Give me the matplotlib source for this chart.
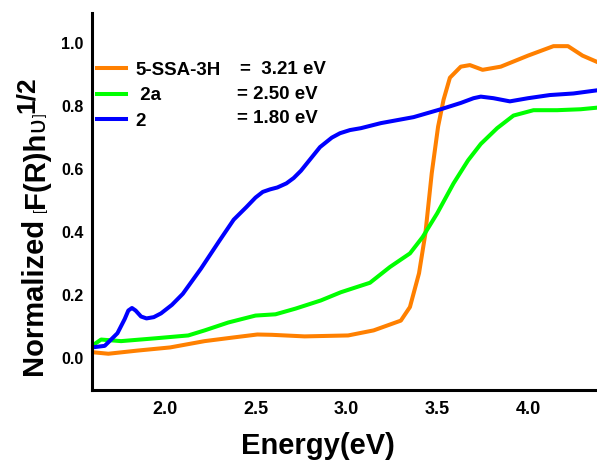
import matplotlib
matplotlib.use('Agg')
import matplotlib.pyplot as plt
import numpy as np

plt.rcParams['font.family'] = ['Liberation Sans', 'DejaVu Sans']
plt.rcParams['font.weight'] = 'bold'

# 5-SSA-3H (orange)
e_ssa = [1.60, 1.69, 1.85, 2.03, 2.22, 2.37, 2.51, 2.59, 2.77, 3.01, 3.15, 3.30, 3.35, 3.40,
         3.435, 3.47, 3.505, 3.535, 3.57, 3.63, 3.68, 3.75, 3.85, 4.00, 4.14, 4.22, 4.30, 4.38]
y_ssa = [0.020, 0.015, 0.025, 0.035, 0.055, 0.066, 0.076, 0.075, 0.070, 0.073, 0.089, 0.120, 0.163, 0.270,
         0.396, 0.587, 0.735, 0.820, 0.890, 0.925, 0.930, 0.915, 0.925, 0.960, 0.990, 0.990, 0.960, 0.940]

# 2a (green)
e_2a = [1.60, 1.65, 1.76, 1.95, 2.13, 2.22, 2.35, 2.50, 2.61, 2.72, 2.86, 2.97, 3.13, 3.24,
        3.35, 3.42, 3.50, 3.59, 3.67, 3.74, 3.83, 3.92, 4.03, 4.16, 4.29, 4.38]
y_2a = [0.040, 0.060, 0.055, 0.064, 0.073, 0.089, 0.114, 0.136, 0.140, 0.158, 0.184, 0.210, 0.240, 0.290,
        0.333, 0.385, 0.460, 0.555, 0.628, 0.680, 0.730, 0.770, 0.787, 0.787, 0.790, 0.795]

# 2 (blue)
e_2 = [1.60, 1.67, 1.74, 1.78, 1.80, 1.82, 1.84, 1.87, 1.90, 1.94, 1.98, 2.04, 2.10, 2.20,
       2.30, 2.38, 2.45, 2.50, 2.54, 2.58, 2.62, 2.67, 2.71, 2.75, 2.785, 2.855, 2.92, 2.965,
       3.02, 3.08, 3.19, 3.37, 3.52, 3.63, 3.70, 3.74, 3.81, 3.90, 4.00, 4.12, 4.25, 4.38]
y_2 = [0.035, 0.040, 0.080, 0.125, 0.152, 0.160, 0.152, 0.133, 0.127, 0.131, 0.143, 0.170, 0.205, 0.285,
       0.372, 0.440, 0.480, 0.510, 0.528, 0.536, 0.542, 0.555, 0.572, 0.595, 0.620, 0.670, 0.700, 0.714,
       0.724, 0.730, 0.746, 0.765, 0.790, 0.810, 0.825, 0.830, 0.825, 0.815, 0.825, 0.835, 0.840, 0.850]

labels = ['5-SSA-3H', ' 2a', '2']
gaps = ['=  3.21 eV', '= 2.50 eV', '= 1.80 eV']
colors = ['#ff8000', '#00ff00', '#0000ff']

# y label pieces: text, size, weight, baseline x in figure pixels
ylab_parts = [('Normalized ', 21, 'bold', 44),
              ('[', 10, 'normal', 44),
              ('F(R)h', 21, 'bold', 44),
              ('υ', 19, 'normal', 44),
              (']', 10, 'normal', 44),
              ('1/2', 19, 'bold', 34)]

fig = plt.figure(figsize=(5.97, 4.62), dpi=100)
ax = fig.add_axes([0.1541, 0.1558, 0.846, 0.816])

series = [(e_ssa, y_ssa), (e_2a, y_2a), (e_2, y_2)]
for (x, y), c, lab in zip(series, colors, labels):
    ax.plot(x, y, color=c, lw=2.9, label=lab, solid_joinstyle='round')

ax.set_xlim(1.6, 4.38)
ax.set_ylim(-0.10, 1.095)
ax.set_xticks([2.0, 2.5, 3.0, 3.5, 4.0])
ax.set_yticks([0.0, 0.2, 0.4, 0.6, 0.8, 1.0])
ax.set_xticklabels(['2.0', '2.5', '3.0', '3.5', '4.0'])
ax.set_yticklabels(['0.0', '0.2', '0.4', '0.6', '0.8', '1.0'])
ax.tick_params(length=0)
ax.tick_params(axis='x', pad=8, labelsize=13)
ax.tick_params(axis='y', pad=6, labelsize=11.5)

for s in ['top', 'right']:
    ax.spines[s].set_visible(False)
for s in ['left', 'bottom']:
    ax.spines[s].set_linewidth(2.2)

ax.set_xlabel('Energy(eV)', fontsize=21, fontweight='bold')
ax.xaxis.set_label_coords(0.447, -0.112)

# y label built from pieces so the brackets can be small and the power large
prev = None
for txt, size, weight, bx in ylab_parts:
    if prev is None:
        prev = fig.text(bx / 597, 85 / 462, txt, rotation=90, rotation_mode='anchor',
                        ha='left', va='baseline', fontsize=size, fontweight=weight)
    else:
        prev = ax.annotate(txt, xy=(bx, 1), xycoords=('figure pixels', prev),
                           rotation=90, rotation_mode='anchor', ha='left', va='baseline',
                           fontsize=size, fontweight=weight, annotation_clip=False)

leg = ax.legend(loc='upper left', bbox_to_anchor=(0.01, 0.871), frameon=False,
                fontsize=13.5, handlelength=1.55, handletextpad=0.48, labelspacing=0.44,
                borderaxespad=0.0, borderpad=0.0)
for t in leg.get_texts():
    t.set_fontweight('bold')

rows_y = [0.849, 0.785, 0.719]
rows_x = [0.293, 0.287, 0.287]
for xx, yy, g in zip(rows_x, rows_y, gaps):
    ax.text(xx, yy, g, transform=ax.transAxes, fontsize=13.5, fontweight='bold', va='center')

fig.savefig('out.png', dpi=100)
